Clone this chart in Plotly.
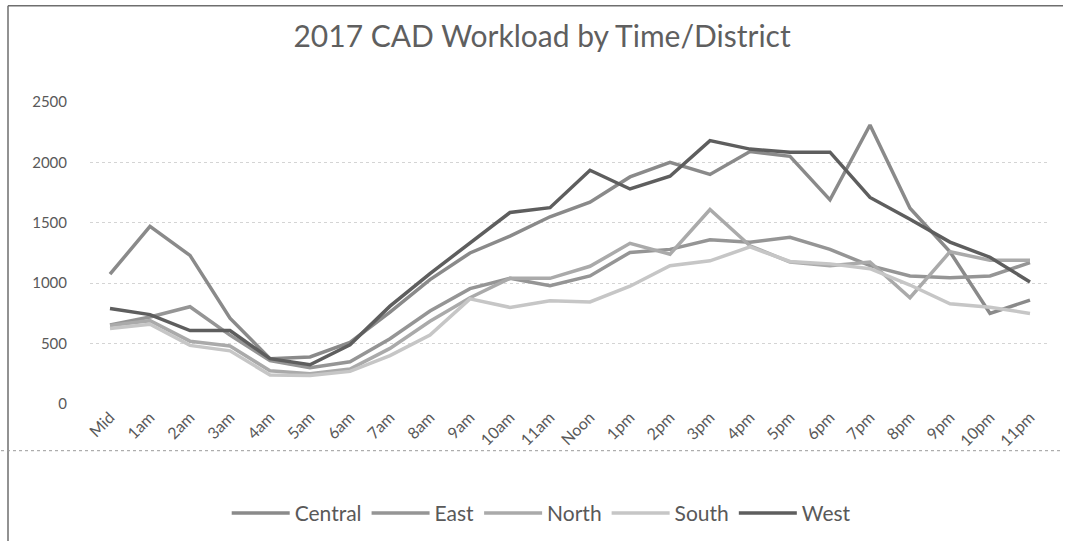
import plotly.graph_objects as go

# Hourly CAD workload per district, 2017
hours = ["Mid", "1am", "2am", "3am", "4am", "5am", "6am", "7am", "8am", "9am",
         "10am", "11am", "Noon", "1pm", "2pm", "3pm", "4pm", "5pm", "6pm", "7pm",
         "8pm", "9pm", "10pm", "11pm"]

central = [1075, 1470, 1230, 710, 375, 390, 510, 760, 1030, 1250, 1390, 1550,
           1670, 1880, 2000, 1900, 2090, 2050, 1690, 2310, 1620, 1260, 750, 860]
east = [655, 720, 805, 570, 360, 300, 350, 540, 770, 955, 1040, 980,
        1060, 1255, 1280, 1360, 1340, 1380, 1280, 1145, 1060, 1045, 1060, 1170]
north = [650, 690, 520, 480, 275, 250, 290, 460, 685, 880, 1040, 1040,
         1140, 1330, 1240, 1610, 1310, 1175, 1145, 1175, 880, 1260, 1190, 1190]
south = [625, 660, 485, 440, 240, 235, 270, 400, 570, 870, 800, 855,
         845, 975, 1145, 1185, 1300, 1180, 1160, 1120, 985, 830, 800, 750]
west = [790, 740, 608, 608, 375, 325, 490, 810, 1080, 1330, 1585, 1625,
        1935, 1780, 1885, 2180, 2110, 2085, 2085, 1710, 1530, 1340, 1215, 1010]

y_ticks = [0, 500, 1000, 1500, 2000, 2500]

series = [
    ("Central", central, "#8a8a8a"),
    ("East", east, "#959595"),
    ("North", north, "#aaaaaa"),
    ("South", south, "#c6c6c6"),
    ("West", west, "#5e5e5e"),
]

FONT = "Lato, 'Open Sans', sans-serif"

fig = go.Figure()
for name, vals, color in series:
    fig.add_trace(go.Scatter(
        x=hours, y=vals, name=name, mode="lines",
        line=dict(color=color, width=3.5),
    ))

# plot area spans x 90..1050, y 102..406
W, H = 1065, 546
L, R, T = 90, 15, 102
B = H - 406
pw, ph = W - L - R, H - T - B

def px(x):
    return (x - L) / pw

def py(y):
    return (H - B - y) / ph

fig.update_layout(
    width=W, height=H,
    margin=dict(l=L, r=R, t=T, b=B),
    paper_bgcolor="white", plot_bgcolor="white",
    font=dict(family=FONT, color="#595959"),
    title=dict(text="2017 CAD Workload by Time/District",
               x=0.509, xanchor="center", yref="container",
               y=1 - 36 / H, yanchor="middle",
               font=dict(size=30, color="#5f5f5f", family=FONT)),
    showlegend=True,
    legend=dict(orientation="h", x=0.47, xanchor="center",
                y=py(516), yanchor="middle",
                font=dict(size=21, color="#595959", family=FONT),
                itemwidth=58, traceorder="normal"),
    xaxis=dict(type="category", tickangle=-45, showgrid=False,
               range=[-0.5, len(hours) - 0.5],
               showline=False, zeroline=False, ticks="",
               tickfont=dict(size=16, color="#595959", family=FONT)),
    yaxis=dict(range=[0, 2500], tickvals=y_ticks, showgrid=True,
               gridcolor="#d4d4d4", griddash="dot", gridwidth=1,
               zeroline=False, showline=False, ticks="",
               ticklabelstandoff=22,
               tickfont=dict(size=15, color="#595959", family=FONT)),
    shapes=[
        # chart frame: top and left edges, kept inside the page
        dict(type="line", xref="paper", yref="paper",
             x0=px(8), x1=px(1063), y0=py(5), y1=py(5),
             line=dict(color="#6e6e6e", width=1.5)),
        dict(type="line", xref="paper", yref="paper",
             x0=px(8), x1=px(8), y0=py(5), y1=py(544),
             line=dict(color="#6e6e6e", width=1.5)),
        # dotted guide running across the page
        dict(type="line", xref="paper", yref="paper",
             x0=px(1), x1=px(1063), y0=py(453), y1=py(453),
             line=dict(color="#9a9a9a", width=1, dash="dot")),
    ],
)

fig.write_html("out.html")
